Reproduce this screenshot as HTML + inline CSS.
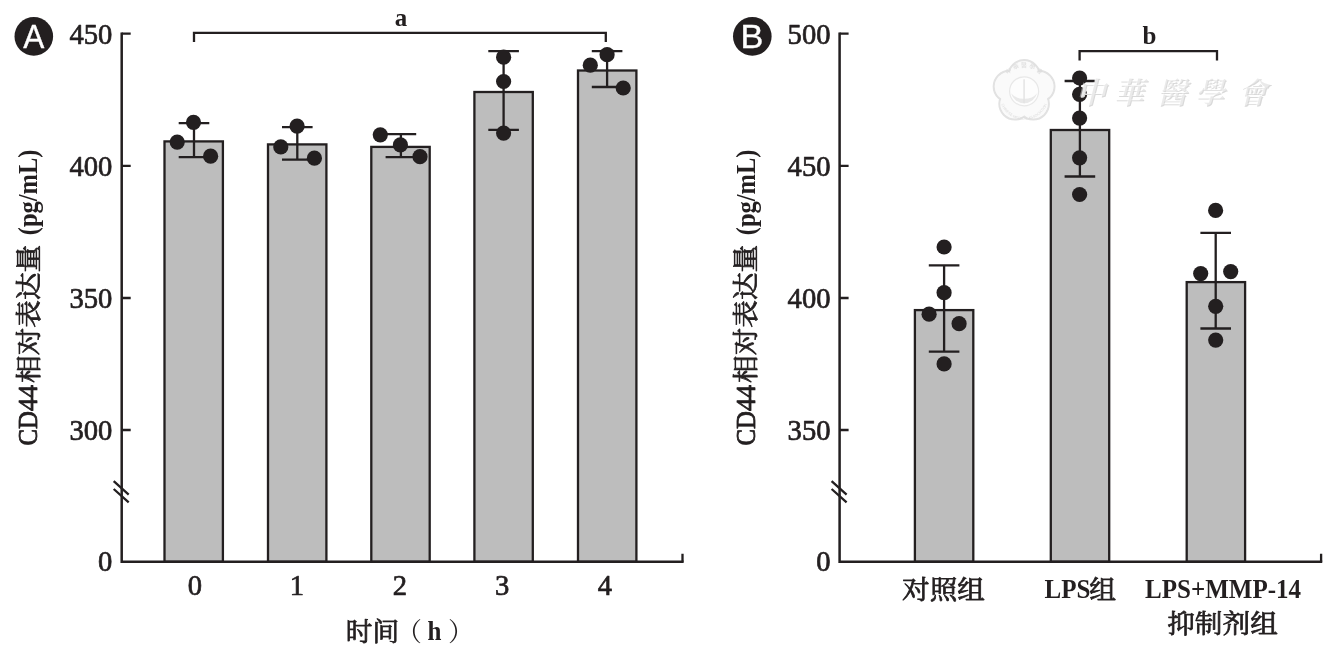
<!DOCTYPE html>
<html lang="zh">
<head>
<meta charset="utf-8">
<title>CD44相对表达量</title>
<style>
html,body{margin:0;padding:0;background:#fff;}
body{width:1335px;height:654px;overflow:hidden;}
svg{display:block;}
svg text{font-family:"Liberation Serif","Noto Serif CJK SC",serif;fill:#231f20;stroke:#231f20;stroke-width:0;stroke-linejoin:round;}
svg text.num{font-size:28.6px;stroke-width:0.7px;}
svg text.lat{font-size:27.5px;font-weight:bold;}
svg text.latm{font-size:27.5px;stroke-width:0.85px;}
svg text.cjk{font-family:"Noto Serif CJK SC","Liberation Serif",serif;font-size:25.6px;stroke-width:0.75px;}
svg text.cjkp{font-family:"Noto Serif CJK SC","Liberation Serif",serif;font-size:26px;}
svg text.sans{font-family:"Liberation Sans",sans-serif;font-size:33.6px;fill:#fff;stroke:#fff;stroke-width:0.35px;}
svg text.wm{font-family:"Noto Serif CJK SC","Noto Sans CJK TC",serif;font-size:30px;font-weight:bold;}
svg text.wmd{fill:#d9d9d9;}
svg text.wml{fill:#fff;fill-opacity:0.45;}
svg text.wms{font-family:"Liberation Sans","Noto Sans CJK TC",sans-serif;fill:#dcdcdc;}
</style>
</head>
<body>
<svg width="1335" height="654" viewBox="0 0 1335 654">
<rect width="1335" height="654" fill="#fff"/>
<g id="panelA">
<rect x="164.50" y="141.40" width="58.40" height="420.40" fill="#bdbdbd" stroke="#231f20" stroke-width="2.3"/>
<rect x="268.00" y="144.40" width="58.40" height="417.40" fill="#bdbdbd" stroke="#231f20" stroke-width="2.3"/>
<rect x="371.30" y="146.90" width="58.40" height="414.90" fill="#bdbdbd" stroke="#231f20" stroke-width="2.3"/>
<rect x="474.40" y="92.00" width="58.40" height="469.80" fill="#bdbdbd" stroke="#231f20" stroke-width="2.3"/>
<rect x="578.00" y="70.50" width="58.40" height="491.30" fill="#bdbdbd" stroke="#231f20" stroke-width="2.3"/>
<path d="M121.70 32.55V561.80H683.65" stroke="#231f20" stroke-width="2.5" fill="none" stroke-linejoin="miter"/><path d="M121.70 33.70H130.70M121.70 165.90H130.70M121.70 298.00H130.70M121.70 430.00H130.70M682.50 561.80V553.80" stroke="#231f20" stroke-width="2.3" fill="none"/><path d="M113.70 481.2L128.70 494.7M113.70 489L128.70 502.3" stroke="#231f20" stroke-width="2.3" fill="none"/>
<path d="M194.00 123.10V157.20M178.70 123.10H209.30M178.70 157.20H209.30" stroke="#231f20" stroke-width="2.3" fill="none"/>
<path d="M297.30 127.10V159.70M282.00 127.10H312.60M282.00 159.70H312.60" stroke="#231f20" stroke-width="2.3" fill="none"/>
<path d="M400.90 134.10V157.20M385.60 134.10H416.20M385.60 157.20H416.20" stroke="#231f20" stroke-width="2.3" fill="none"/>
<path d="M503.60 51.20V129.90M488.30 51.20H518.90M488.30 129.90H518.90" stroke="#231f20" stroke-width="2.3" fill="none"/>
<path d="M607.10 51.20V87.00M591.80 51.20H622.40M591.80 87.00H622.40" stroke="#231f20" stroke-width="2.3" fill="none"/>
<circle cx="193.50" cy="122.30" r="7.6" fill="#231f20"/>
<circle cx="177.20" cy="142.10" r="7.6" fill="#231f20"/>
<circle cx="210.60" cy="156.20" r="7.6" fill="#231f20"/>
<circle cx="297.10" cy="126.10" r="7.6" fill="#231f20"/>
<circle cx="280.80" cy="146.90" r="7.6" fill="#231f20"/>
<circle cx="314.40" cy="158.20" r="7.6" fill="#231f20"/>
<circle cx="380.30" cy="134.80" r="7.6" fill="#231f20"/>
<circle cx="400.40" cy="144.90" r="7.6" fill="#231f20"/>
<circle cx="420.00" cy="156.70" r="7.6" fill="#231f20"/>
<circle cx="503.60" cy="57.20" r="7.6" fill="#231f20"/>
<circle cx="503.60" cy="81.50" r="7.6" fill="#231f20"/>
<circle cx="503.60" cy="133.10" r="7.6" fill="#231f20"/>
<circle cx="607.10" cy="54.70" r="7.6" fill="#231f20"/>
<circle cx="590.30" cy="65.20" r="7.6" fill="#231f20"/>
<circle cx="623.20" cy="88.00" r="7.6" fill="#231f20"/>
<path d="M194.00 42.10V32.90H605.80V42.10" stroke="#231f20" stroke-width="2.3" fill="none"/>
<text transform="translate(401.00 26.40)" text-anchor="middle" class="lat" style="font-size:25px">a</text>
<text transform="translate(112.30 44.00)" text-anchor="end" class="num">450</text>
<text transform="translate(112.30 175.50)" text-anchor="end" class="num">400</text>
<text transform="translate(112.30 307.60)" text-anchor="end" class="num">350</text>
<text transform="translate(112.30 439.60)" text-anchor="end" class="num">300</text>
<text transform="translate(112.30 571.40)" text-anchor="end" class="num">0</text>
<text transform="translate(195.00 594.50)" text-anchor="middle" class="num">0</text>
<text transform="translate(296.90 594.50)" text-anchor="middle" class="num">1</text>
<text transform="translate(399.80 594.50)" text-anchor="middle" class="num">2</text>
<text transform="translate(502.20 594.50)" text-anchor="middle" class="num">3</text>
<text transform="translate(604.80 594.50)" text-anchor="middle" class="num">4</text>
<text transform="translate(345.80 640.60) scale(1.04 1)" text-anchor="start" class="cjk">时间</text>
<text transform="translate(408.90 640.60)" text-anchor="middle" class="cjkp">（</text>
<text transform="translate(434.50 640.10) scale(0.91 1)" text-anchor="middle" class="lat">h</text>
<text transform="translate(460.90 640.60)" text-anchor="middle" class="cjkp">）</text>
<text transform="translate(37.30 445.60) rotate(-90) scale(0.9 1)" text-anchor="start" class="latm">CD</text><text transform="translate(37.30 385.20) rotate(-90) scale(0.94 1)" text-anchor="end" class="latm">44</text><text transform="translate(37.50 383.00) rotate(-90) scale(1.08 1)" text-anchor="start" class="cjk">相对表达量</text><text transform="translate(37.30 149.60) rotate(-90) scale(0.89 1)" text-anchor="end" class="lat">(pg/mL)</text>
<circle cx="33.8" cy="36.4" r="19.3" fill="#231f20"/>
<text transform="translate(33.70 48.20) scale(0.94 1)" text-anchor="middle" class="sans">A</text>
</g>
<g id="panelB">
<rect x="914.90" y="310.10" width="58.40" height="251.70" fill="#bdbdbd" stroke="#231f20" stroke-width="2.3"/>
<rect x="1050.80" y="130.00" width="58.40" height="431.80" fill="#bdbdbd" stroke="#231f20" stroke-width="2.3"/>
<rect x="1186.70" y="282.10" width="58.40" height="279.70" fill="#bdbdbd" stroke="#231f20" stroke-width="2.3"/>
<path d="M839.60 32.55V561.80H1322.25" stroke="#231f20" stroke-width="2.5" fill="none" stroke-linejoin="miter"/><path d="M839.60 33.70H848.60M839.60 165.90H848.60M839.60 298.00H848.60M839.60 430.00H848.60M1321.10 561.80V553.80" stroke="#231f20" stroke-width="2.3" fill="none"/><path d="M831.60 481.2L846.60 494.7M831.60 489L846.60 502.3" stroke="#231f20" stroke-width="2.3" fill="none"/>
<path d="M944.10 265.40V351.70M928.80 265.40H959.40M928.80 351.70H959.40" stroke="#231f20" stroke-width="2.3" fill="none"/>
<path d="M1079.90 81.00V176.50M1064.60 81.00H1095.20M1064.60 176.50H1095.20" stroke="#231f20" stroke-width="2.3" fill="none"/>
<path d="M1215.70 232.80V328.50M1200.40 232.80H1231.00M1200.40 328.50H1231.00" stroke="#231f20" stroke-width="2.3" fill="none"/>
<circle cx="944.10" cy="247.00" r="7.6" fill="#231f20"/>
<circle cx="944.10" cy="292.70" r="7.6" fill="#231f20"/>
<circle cx="929.10" cy="314.20" r="7.6" fill="#231f20"/>
<circle cx="959.10" cy="323.70" r="7.6" fill="#231f20"/>
<circle cx="944.10" cy="363.90" r="7.6" fill="#231f20"/>
<circle cx="1079.60" cy="78.00" r="7.6" fill="#231f20"/>
<circle cx="1079.60" cy="94.30" r="7.6" fill="#231f20"/>
<circle cx="1079.60" cy="118.10" r="7.6" fill="#231f20"/>
<circle cx="1079.60" cy="157.80" r="7.6" fill="#231f20"/>
<circle cx="1079.60" cy="194.50" r="7.6" fill="#231f20"/>
<circle cx="1215.60" cy="210.40" r="7.6" fill="#231f20"/>
<circle cx="1200.70" cy="273.60" r="7.6" fill="#231f20"/>
<circle cx="1230.70" cy="271.60" r="7.6" fill="#231f20"/>
<circle cx="1215.70" cy="306.30" r="7.6" fill="#231f20"/>
<circle cx="1215.70" cy="340.10" r="7.6" fill="#231f20"/>
<path d="M1079.60 60.40V51.20H1217.00V60.40" stroke="#231f20" stroke-width="2.3" fill="none"/>
<text transform="translate(1149.50 44.20)" text-anchor="middle" class="lat" style="font-size:25px">b</text>
<text transform="translate(830.50 44.00)" text-anchor="end" class="num">500</text>
<text transform="translate(830.50 175.50)" text-anchor="end" class="num">450</text>
<text transform="translate(830.50 307.60)" text-anchor="end" class="num">400</text>
<text transform="translate(830.50 439.60)" text-anchor="end" class="num">350</text>
<text transform="translate(830.50 571.40)" text-anchor="end" class="num">0</text>
<text transform="translate(943.50 598.60) scale(1.08 1)" text-anchor="middle" class="cjk">对照组</text>
<text transform="translate(1044.60 598.00) scale(0.91 1)" text-anchor="start" class="lat">LPS</text>
<text transform="translate(1089.30 598.60) scale(1.05 1)" text-anchor="start" class="cjk">组</text>
<text transform="translate(1223.10 598.00) scale(0.91 1)" text-anchor="middle" class="lat">LPS+MMP-14</text>
<text transform="translate(1222.50 633.40) scale(1.08 1)" text-anchor="middle" class="cjk">抑制剂组</text>
<text transform="translate(755.10 445.60) rotate(-90) scale(0.9 1)" text-anchor="start" class="latm">CD</text><text transform="translate(755.10 385.20) rotate(-90) scale(0.94 1)" text-anchor="end" class="latm">44</text><text transform="translate(755.30 383.00) rotate(-90) scale(1.08 1)" text-anchor="start" class="cjk">相对表达量</text><text transform="translate(755.10 149.60) rotate(-90) scale(0.89 1)" text-anchor="end" class="lat">(pg/mL)</text>
<circle cx="752.3" cy="36.4" r="19.3" fill="#231f20"/>
<text transform="translate(752.00 48.20) scale(1.02 1)" text-anchor="middle" class="sans">B</text>
<g id="watermark"><g fill="#f6f6f6" stroke="#e2e2e2" stroke-width="2.2"><circle cx="1024.10" cy="75.80" r="15.6"/><circle cx="1038.84" cy="86.51" r="15.6"/><circle cx="1033.21" cy="103.84" r="15.6"/><circle cx="1014.99" cy="103.84" r="15.6"/><circle cx="1009.36" cy="86.51" r="15.6"/></g><g fill="#fafafa" stroke="none"><circle cx="1024.10" cy="75.80" r="14.6"/><circle cx="1038.84" cy="86.51" r="14.6"/><circle cx="1033.21" cy="103.84" r="14.6"/><circle cx="1014.99" cy="103.84" r="14.6"/><circle cx="1009.36" cy="86.51" r="14.6"/><circle cx="1024.1" cy="91.3" r="18"/></g><circle cx="1024.1" cy="91.3" r="14.5" fill="#fdfdfd" stroke="#e8e8e8" stroke-width="1.2"/><path d="M1011.1 93.3A13.5 13.5 0 0 0 1037.1 93.3A15 11 0 0 1 1011.1 93.3Z" fill="#e9e9e9"/><path d="M1024.1 79.3V103.3" stroke="#e2e2e2" stroke-width="1.4" fill="none"/><path id="wmTop" d="M1003.1 88.3A21 21 0 0 1 1045.1 88.3" fill="none"/><path id="wmBot" d="M999.6 95.3A24.5 24.5 0 0 0 1048.6 95.3" fill="none"/><text class="wms" style="font-size:6px"><textPath href="#wmTop" startOffset="50%" text-anchor="middle">中 華 醫 學 會</textPath></text><text class="wms" style="font-size:3.6px"><textPath href="#wmBot" startOffset="50%" text-anchor="middle">CHINESE MEDICAL ASSOCIATION</textPath></text>
<text transform="translate(1091.6 103.7) skewX(-14)" text-anchor="middle" class="wm wmd">中</text>
<text transform="translate(1090.4 102.5) skewX(-14)" text-anchor="middle" class="wm wml">中</text>
<text transform="translate(1129.6 103.7) skewX(-14)" text-anchor="middle" class="wm wmd">華</text>
<text transform="translate(1128.4 102.5) skewX(-14)" text-anchor="middle" class="wm wml">華</text>
<text transform="translate(1172.6 103.7) skewX(-14)" text-anchor="middle" class="wm wmd">醫</text>
<text transform="translate(1171.4 102.5) skewX(-14)" text-anchor="middle" class="wm wml">醫</text>
<text transform="translate(1210.6 103.7) skewX(-14)" text-anchor="middle" class="wm wmd">學</text>
<text transform="translate(1209.4 102.5) skewX(-14)" text-anchor="middle" class="wm wml">學</text>
<text transform="translate(1253.2 103.7) skewX(-14)" text-anchor="middle" class="wm wmd">會</text>
<text transform="translate(1252.0 102.5) skewX(-14)" text-anchor="middle" class="wm wml">會</text>
</g>
</g>
</svg>
</body>
</html>
